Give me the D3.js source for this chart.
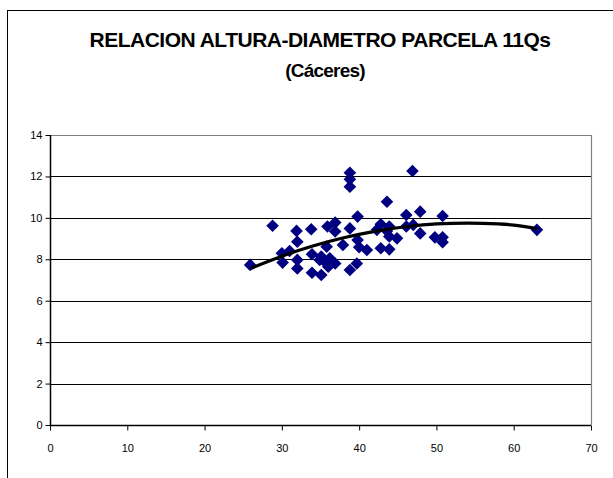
<!DOCTYPE html>
<html>
<head>
<meta charset="utf-8">
<script src="https://cdn.jsdelivr.net/npm/d3@7"></script>
<style>
  html, body { margin: 0; padding: 0; background: #fff; }
  svg { display: block; font-family: "Liberation Sans", Arial, sans-serif; }
</style>
</head>
<body>
<svg id="chart" width="613" height="478"></svg>
<script>
// ---- Data ----
const diametro = [25.9, 28.8, 30.0, 30.1, 31.0, 31.9, 32.0, 32.0, 32.0, 33.8,
                  33.9, 33.9, 34.9, 35.1, 35.1, 35.9, 36.9, 36.9, 35.8, 36.2,
                  36.9, 35.8, 37.9, 38.8, 38.8, 38.8, 38.8, 38.8, 39.7, 39.8,
                  39.8, 40.0, 41.0, 42.3, 42.8, 42.8, 43.6, 43.6, 43.9, 43.9,
                  44.9, 43.9, 46.1, 46.1, 47.0, 46.9, 47.9, 47.9, 49.8, 50.8,
                  50.8, 50.8, 63.0, 36.0];
const altura   = [7.73, 9.62, 8.29, 7.84, 8.40, 9.37, 8.85, 7.97, 7.56, 9.45,
                  8.24, 7.35, 7.97, 7.24, 8.13, 9.58, 9.77, 9.34, 7.80, 8.05,
                  7.80, 8.61, 8.69, 9.49, 12.18, 11.86, 11.50, 7.48, 7.80, 10.06,
                  8.93, 8.58, 8.45, 9.42, 8.53, 9.69, 9.37, 10.78, 9.58, 9.10,
                  9.01, 8.48, 10.14, 9.58, 9.66, 12.26, 10.30, 9.25, 9.06, 9.06,
                  8.82, 10.09, 9.42, 7.64];
// Trend line (polynomial)
const trendX = [26, 30, 34, 38, 42, 46, 50, 54, 58, 60, 63];
const trendY = [7.57, 8.15, 8.64, 9.04, 9.35, 9.57, 9.71, 9.75, 9.71, 9.65, 9.48];
const xTicks = [0, 10, 20, 30, 40, 50, 60, 70];
const yTicks = [0, 2, 4, 6, 8, 10, 12, 14];
const titleLines = ["RELACION ALTURA-DIAMETRO PARCELA 11Qs", "(Cáceres)"];

// ---- Layout ----
const svg = d3.select("#chart");
const pLeft = 50, pTop = 135, pRight = 591, pBottom = 425;

// outer chart border
svg.append("rect")
  .attr("x", 7.5).attr("y", 10.5)
  .attr("width", 640).attr("height", 500)
  .attr("fill", "#fff").attr("stroke", "#000").attr("stroke-width", 1);

const x = d3.scaleLinear().domain([0, 70]).range([pLeft, pRight]);
const y = d3.scaleLinear().domain([0, 14]).range([pBottom, pTop]);

// title
svg.append("text")
  .attr("x", 320).attr("y", 47)
  .attr("text-anchor", "middle")
  .attr("font-size", 21).attr("font-weight", "bold")
  .attr("letter-spacing", -0.5)
  .text(titleLines[0]);
svg.append("text")
  .attr("x", 325).attr("y", 77)
  .attr("text-anchor", "middle")
  .attr("font-size", 19).attr("font-weight", "bold")
  .attr("letter-spacing", -0.8)
  .text(titleLines[1]);

// gridlines
svg.append("g")
  .selectAll("line")
  .data(yTicks.filter(d => d > 0 && d < 14))
  .join("line")
  .attr("x1", pLeft).attr("x2", pRight)
  .attr("y1", d => Math.round(y(d)) + 0.5).attr("y2", d => Math.round(y(d)) + 0.5)
  .attr("stroke", "#000").attr("stroke-width", 1);

// plot area top and right border (gray)
svg.append("path")
  .attr("d", `M${pLeft},${pTop + 0.5}H${pRight + 0.5}V${pBottom}`)
  .attr("fill", "none").attr("stroke", "#808080").attr("stroke-width", 1.2);

// axes
const xAxis = d3.axisBottom(x).tickValues(xTicks).tickSize(5).tickPadding(14);
const yAxis = d3.axisLeft(y).tickValues(yTicks).tickSize(5).tickPadding(3);

const gx = svg.append("g").attr("transform", `translate(0,${pBottom + 0.5})`).call(xAxis);
const gy = svg.append("g").attr("transform", `translate(${pLeft + 0.5},0)`).call(yAxis);
[gx, gy].forEach(g => {
  g.select(".domain").attr("stroke", "#000").attr("stroke-width", 1.5);
  g.selectAll(".tick line").attr("stroke", "#000");
  g.selectAll(".tick text")
    .attr("fill", "#000")
    .attr("font-size", 11)
    .attr("font-family", "'Liberation Sans', Arial, sans-serif");
});
gy.select(".domain").attr("d", `M0,${pBottom}V${pTop}`);
gx.select(".domain").attr("d", `M${pLeft},0H${pRight}`);

// scatter points (diamonds)
const pts = diametro.map((d, i) => ({ x: d, y: altura[i] }));
const r = 6.3;
svg.append("g")
  .selectAll("path")
  .data(pts)
  .join("path")
  .attr("d", d => {
    const cx = x(d.x), cy = y(d.y);
    return `M${cx},${cy - r}L${cx + r},${cy}L${cx},${cy + r}L${cx - r},${cy}Z`;
  })
  .attr("fill", "#000080");

// trend line
const line = d3.line().x(d => x(d[0])).y(d => y(d[1])).curve(d3.curveMonotoneX);
svg.append("path")
  .datum(trendX.map((d, i) => [d, trendY[i]]))
  .attr("d", line)
  .attr("fill", "none")
  .attr("stroke", "#000")
  .attr("stroke-width", 3.2);
</script>
</body>
</html>
